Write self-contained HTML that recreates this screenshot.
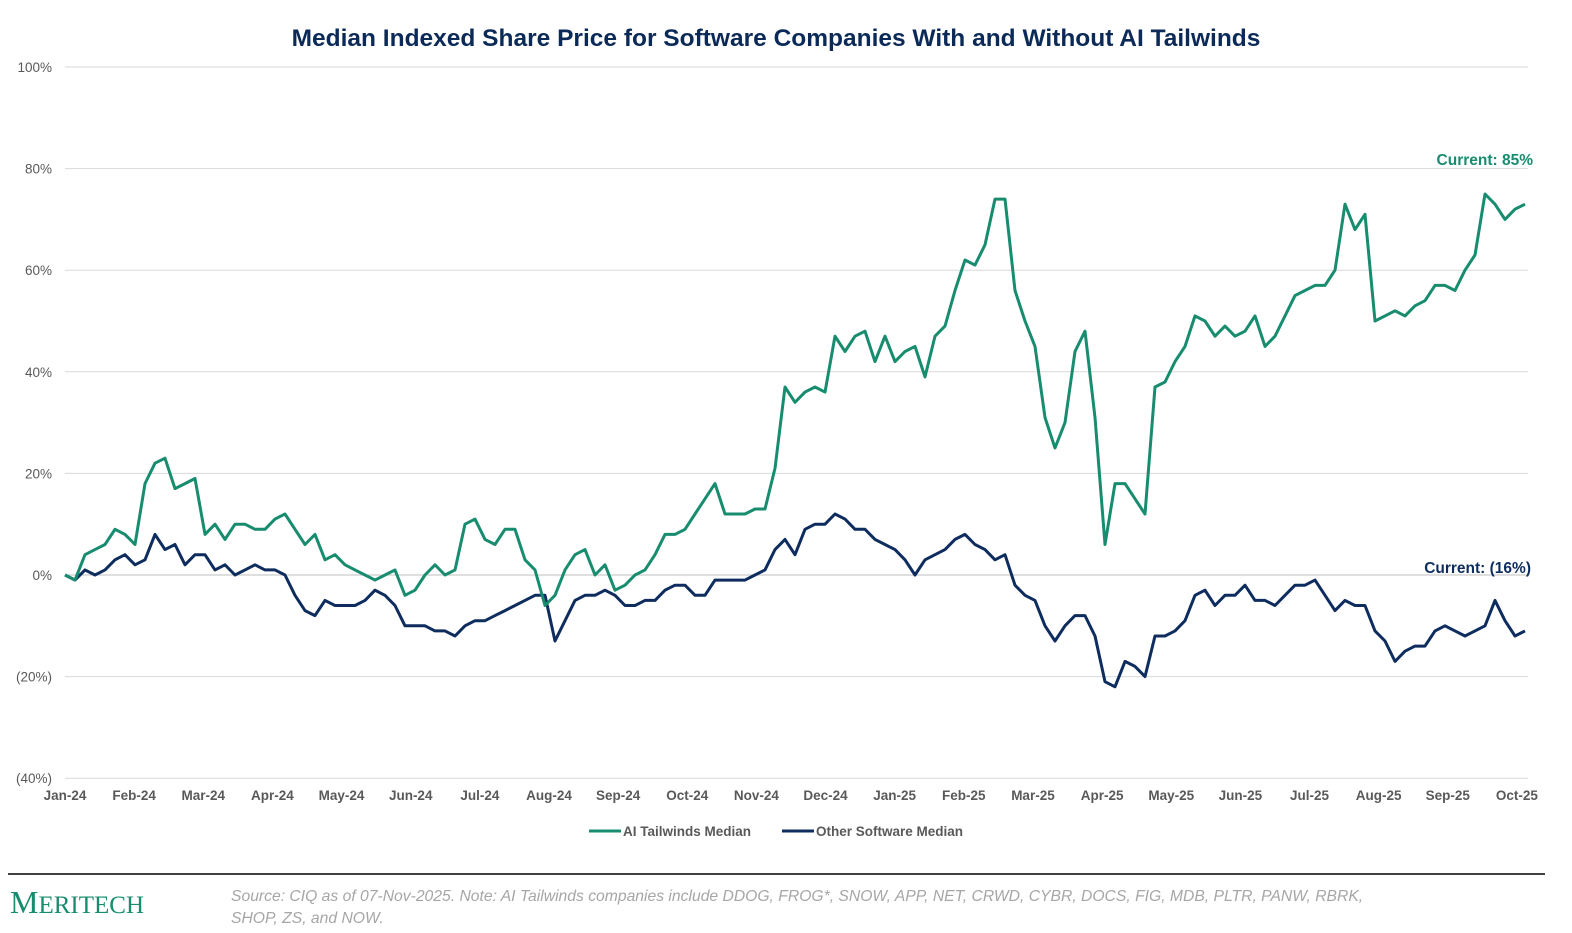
<!DOCTYPE html>
<html><head><meta charset="utf-8"><style>
body{margin:0;background:#fff;font-family:"Liberation Sans",Arial,sans-serif;}
svg{display:block}
</style></head><body>
<svg id="chart" width="1572" height="933" xmlns="http://www.w3.org/2000/svg">
<text x="776" y="46" text-anchor="middle" font-size="24.5" font-weight="bold" fill="#0b2a58">Median Indexed Share Price for Software Companies With and Without AI Tailwinds</text>
<g id="grid"></g><g id="xlabels"></g><g id="series"></g>
<text x="1533" y="165" text-anchor="end" font-size="15.5" font-weight="bold" fill="#178c6e">Current: 85%</text>
<text x="1531" y="573" text-anchor="end" font-size="15.5" font-weight="bold" fill="#0e2d5e">Current: (16%)</text>
<g>
<line x1="589" y1="831" x2="621" y2="831" stroke="#178c6e" stroke-width="3"/>
<text x="623" y="836" font-size="13.5" font-weight="bold" fill="#595959">AI Tailwinds Median</text>
<line x1="782" y1="831" x2="814" y2="831" stroke="#0e2d5e" stroke-width="3"/>
<text x="816" y="836" font-size="13.5" font-weight="bold" fill="#595959">Other Software Median</text>
</g>
<line x1="8" y1="874" x2="1545" y2="874" stroke="#000" stroke-width="1.5"/>
<text x="10" y="913" font-family="Liberation Serif,serif" font-size="32" fill="#178c6e">M<tspan font-size="25">ERITECH</tspan></text>
<text x="231" y="901" font-size="15.7" font-style="italic" fill="#a6a6a6">Source: CIQ as of 07-Nov-2025. Note: AI Tailwinds companies include DDOG, FROG*, SNOW, APP, NET, CRWD, CYBR, DOCS, FIG, MDB, PLTR, PANW, RBRK,</text>
<text x="231" y="923" font-size="15.7" font-style="italic" fill="#a6a6a6">SHOP, ZS, and NOW.</text>
</svg>
<script>
const months=["Jan-24","Feb-24","Mar-24","Apr-24","May-24","Jun-24","Jul-24","Aug-24","Sep-24","Oct-24","Nov-24","Dec-24","Jan-25","Feb-25","Mar-25","Apr-25","May-25","Jun-25","Jul-25","Aug-25","Sep-25","Oct-25"];
const yTicks=[100,80,60,40,20,0,-20,-40];
const yTickLabels=["100%","80%","60%","40%","20%","0%","(20%)","(40%)"];
const aiValues=[0,-1,4,5,6,9,8,6,18,22,23,17,18,19,8,10,7,10,10,9,9,11,12,9,6,8,3,4,2,1,0,-1,0,1,-4,-3,0,2,0,1,10,11,7,6,9,9,3,1,-6,-4,1,4,5,0,2,-3,-2,0,1,4,8,8,9,12,15,18,12,12,12,13,13,21,37,34,36,37,36,47,44,47,48,42,47,42,44,45,39,47,49,56,62,61,65,74,74,56,50,45,31,25,30,44,48,31,6,18,18,15,12,37,38,42,45,51,50,47,49,47,48,51,45,47,51,55,56,57,57,60,73,68,71,50,51,52,51,53,54,57,57,56,60,63,75,73,70,72,73];
const otherValues=[0,-1,1,0,1,3,4,2,3,8,5,6,2,4,4,1,2,0,1,2,1,1,0,-4,-7,-8,-5,-6,-6,-6,-5,-3,-4,-6,-10,-10,-10,-11,-11,-12,-10,-9,-9,-8,-7,-6,-5,-4,-4,-13,-9,-5,-4,-4,-3,-4,-6,-6,-5,-5,-3,-2,-2,-4,-4,-1,-1,-1,-1,0,1,5,7,4,9,10,10,12,11,9,9,7,6,5,3,0,3,4,5,7,8,6,5,3,4,-2,-4,-5,-10,-13,-10,-8,-8,-12,-21,-22,-17,-18,-20,-12,-12,-11,-9,-4,-3,-6,-4,-4,-2,-5,-5,-6,-4,-2,-2,-1,-4,-7,-5,-6,-6,-11,-13,-17,-15,-14,-14,-11,-10,-11,-12,-11,-10,-5,-9,-12,-11];
const NS="http://www.w3.org/2000/svg";
const x0=65,pxPerMonth=69.14,stepMonths=10/69.14;
const xScale=m=>x0+m*pxPerMonth;
const yScale=v=>575-v*5.08;
const grid=document.getElementById('grid');
yTicks.forEach((t,i)=>{
  const l=document.createElementNS(NS,'line');
  l.setAttribute('x1',65);l.setAttribute('x2',1528);l.setAttribute('y1',yScale(t));l.setAttribute('y2',yScale(t));
  l.setAttribute('stroke',t===0?'#bfbfbf':'#d9d9d9');l.setAttribute('stroke-width',1);
  
  
  grid.appendChild(l);
  const tx=document.createElementNS(NS,'text');
  tx.setAttribute('x',52);tx.setAttribute('y',yScale(t)+5);tx.setAttribute('text-anchor','end');
  tx.setAttribute('font-size',13.5);tx.setAttribute('fill','#595959');tx.textContent=yTickLabels[i];
  
  
  grid.appendChild(tx);
});
const xl=document.getElementById('xlabels');
months.forEach((m,i)=>{
  const tx=document.createElementNS(NS,'text');
  tx.setAttribute('x',xScale(i));tx.setAttribute('y',800);tx.setAttribute('text-anchor','middle');
  tx.setAttribute('font-size',13.5);tx.setAttribute('font-weight','bold');tx.setAttribute('fill','#595959');tx.textContent=m;
  
  
  xl.appendChild(tx);
});
const sg=document.getElementById('series');
function draw(vals,color,name){
  const d=vals.map((v,i)=>(i?'L':'M')+xScale(i*stepMonths).toFixed(1)+' '+yScale(v).toFixed(1)).join(' ');
  const p=document.createElementNS(NS,'path');
  p.setAttribute('d',d);p.setAttribute('fill','none');p.setAttribute('stroke',color);p.setAttribute('stroke-width',3);p.setAttribute('stroke-linejoin','round');
  
  
  sg.appendChild(p);
}
draw(otherValues,'#0e2d5e','other-software-line');
draw(aiValues,'#178c6e','ai-tailwinds-line');
</script>
</body></html>
